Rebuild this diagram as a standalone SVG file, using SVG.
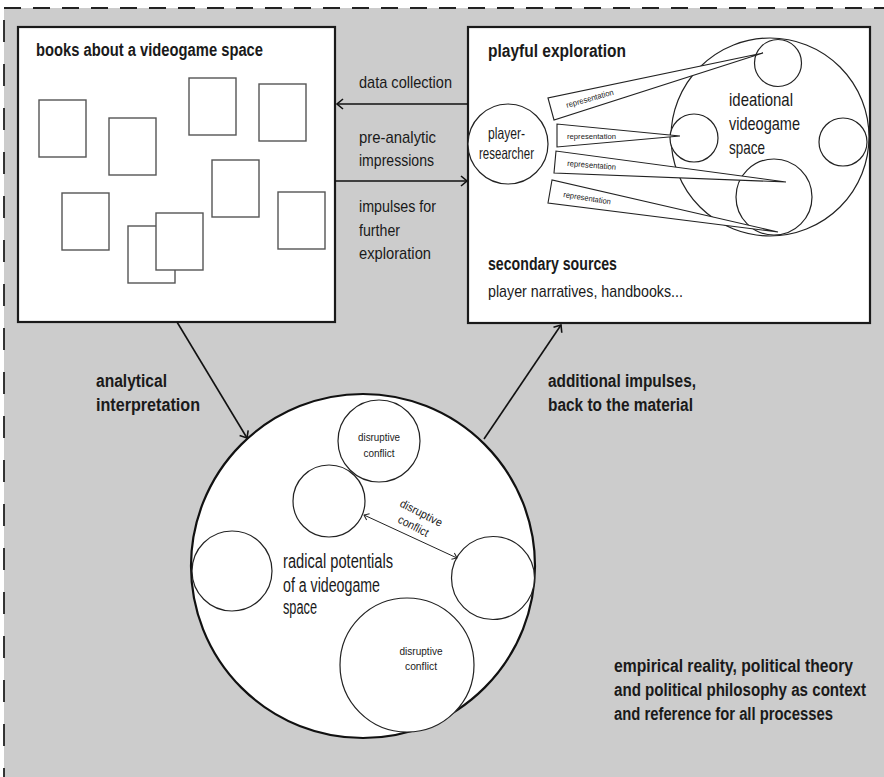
<svg xmlns="http://www.w3.org/2000/svg" width="884" height="777" viewBox="0 0 884 777">
<defs>
<style>
.bg{fill:#cccccc}
.box{fill:#fff;stroke:#1a1a1a;stroke-width:2.2}
.book{fill:#fff;stroke:#555;stroke-width:1.4}
.c{fill:#fff;stroke:#222;stroke-width:1.2}
.cb{fill:#fff;stroke:#111;stroke-width:2.2}
.wedge{fill:#fff;stroke:#222;stroke-width:1.1;stroke-linejoin:miter}
.ln{fill:none;stroke:#111;stroke-width:1.6}
.thin{fill:none;stroke:#222;stroke-width:1}
.t{font-family:"Liberation Sans",Arial,sans-serif;fill:#1a1a1a}
.b{font-weight:bold}
.dash{fill:none;stroke:#222;stroke-width:1.8}
</style>
<marker id="ah" markerUnits="userSpaceOnUse" markerWidth="14" markerHeight="14" viewBox="-8 -7 10 14" refX="0" refY="0" orient="auto">
<path d="M-6,-5 L0,0 L-6,5" fill="none" stroke="#111" stroke-width="1.6"/>
</marker>
<marker id="ahs" markerUnits="userSpaceOnUse" markerWidth="10" markerHeight="10" viewBox="-6 -5 8 10" refX="0" refY="0" orient="auto-start-reverse">
<path d="M-4.5,-3.5 L0,0 L-4.5,3.5" fill="none" stroke="#222" stroke-width="1"/>
</marker>
</defs>

<rect class="bg" x="4" y="8" width="880" height="769"/>
<path class="dash" d="M4,8 H884" stroke-dasharray="17 12"/>
<path class="dash" d="M4,20 V777" stroke-dasharray="22 22"/>

<g id="books">
<rect class="box" x="18" y="27" width="317" height="295"/>
<text class="t b" x="36" y="56" font-size="17.5" textLength="227" lengthAdjust="spacingAndGlyphs">books about a videogame space</text>
<rect class="book" x="39" y="100" width="47" height="57"/>
<rect class="book" x="109" y="118" width="47" height="57"/>
<rect class="book" x="189" y="78" width="47" height="57"/>
<rect class="book" x="259" y="84" width="47" height="57"/>
<rect class="book" x="62" y="193" width="47" height="57"/>
<rect class="book" x="128" y="226" width="47" height="57"/>
<rect class="book" x="156" y="213" width="47" height="57"/>
<rect class="book" x="212" y="160" width="47" height="57"/>
<rect class="book" x="278" y="192" width="47" height="57"/>
</g>

<g id="playful">
<rect class="box" x="468" y="27" width="402" height="296"/>
<text class="t b" x="488" y="57" font-size="18" textLength="138" lengthAdjust="spacingAndGlyphs">playful exploration</text>
<circle class="c" cx="770" cy="137" r="99"/>
<circle class="c" cx="778" cy="63" r="23.5"/>
<circle class="c" cx="694" cy="138" r="24"/>
<circle class="c" cx="843" cy="142" r="24"/>
<circle class="c" cx="774" cy="197" r="38"/>
<text class="t" font-size="19"><tspan x="729" y="106" textLength="64" lengthAdjust="spacingAndGlyphs">ideational</tspan><tspan x="729" y="130" textLength="71" lengthAdjust="spacingAndGlyphs">videogame</tspan><tspan x="729" y="154" textLength="36" lengthAdjust="spacingAndGlyphs">space</tspan></text>
<circle class="c" cx="508" cy="144" r="40"/>
<text class="t" font-size="16.5"><tspan x="488" y="139" textLength="37" lengthAdjust="spacingAndGlyphs">player-</tspan><tspan x="479" y="159" textLength="55" lengthAdjust="spacingAndGlyphs">researcher</tspan></text>
<polygon class="wedge" points="548,98 554,120 763,53"/>
<polygon class="wedge" points="557,124 557,147 680,136"/>
<polygon class="wedge" points="556,151 554,173 786,182"/>
<polygon class="wedge" points="552,180 548,203 778,232"/>
<text class="t" font-size="8" x="567" y="108" transform="rotate(-16 567 108)" textLength="49" lengthAdjust="spacingAndGlyphs">representation</text>
<text class="t" font-size="8" x="567" y="139" textLength="49" lengthAdjust="spacingAndGlyphs">representation</text>
<text class="t" font-size="8" x="567" y="166" transform="rotate(4.5 567 166)" textLength="49" lengthAdjust="spacingAndGlyphs">representation</text>
<text class="t" font-size="8" x="563" y="197" transform="rotate(9 563 197)" textLength="48" lengthAdjust="spacingAndGlyphs">representation</text>
<text class="t b" x="488" y="270" font-size="18" textLength="129" lengthAdjust="spacingAndGlyphs">secondary sources</text>
<text class="t" x="488" y="297" font-size="17" textLength="195" lengthAdjust="spacingAndGlyphs">player narratives, handbooks...</text>
</g>

<g id="radical">
<circle class="cb" cx="363" cy="566" r="172"/>
<circle class="c" cx="379" cy="441" r="41"/>
<circle class="c" cx="329" cy="501" r="36"/>
<circle class="c" cx="232" cy="571" r="40"/>
<circle class="c" cx="493" cy="578" r="41.5"/>
<circle class="c" cx="407" cy="665" r="67"/>
<text class="t" font-size="11.5" text-anchor="middle"><tspan x="379" y="441" textLength="42" lengthAdjust="spacingAndGlyphs">disruptive</tspan><tspan x="379" y="457" textLength="31" lengthAdjust="spacingAndGlyphs">conflict</tspan></text>
<text class="t" font-size="11.5" text-anchor="middle"><tspan x="421" y="655" textLength="43" lengthAdjust="spacingAndGlyphs">disruptive</tspan><tspan x="421" y="670" textLength="32" lengthAdjust="spacingAndGlyphs">conflict</tspan></text>
<path class="thin" d="M364,515 L457,558" marker-start="url(#ahs)" marker-end="url(#ahs)"/>
<text class="t" font-size="11.5" x="399" y="506" transform="rotate(27 399 506)" textLength="46" lengthAdjust="spacingAndGlyphs">disruptive</text>
<text class="t" font-size="11.5" x="397" y="522" transform="rotate(27 397 522)" textLength="33" lengthAdjust="spacingAndGlyphs">conflict</text>
<text class="t" font-size="19.5"><tspan x="283" y="568" textLength="110" lengthAdjust="spacingAndGlyphs">radical potentials</tspan><tspan x="283" y="592" textLength="97" lengthAdjust="spacingAndGlyphs">of a videogame</tspan><tspan x="283" y="614" textLength="34" lengthAdjust="spacingAndGlyphs">space</tspan></text>
</g>

<g id="connectors">
<path class="ln" d="M468,104 H337" marker-end="url(#ah)"/>
<path class="ln" d="M335,181 H467" marker-end="url(#ah)"/>
<path class="ln" d="M177,322 L247,438" marker-end="url(#ah)"/>
<path class="ln" d="M484,439 L561,325" marker-end="url(#ah)"/>
<text class="t" font-size="17" x="359" y="88" textLength="93" lengthAdjust="spacingAndGlyphs">data collection</text>
<text class="t" font-size="17"><tspan x="359" y="143" textLength="77" lengthAdjust="spacingAndGlyphs">pre-analytic</tspan><tspan x="359" y="166" textLength="75" lengthAdjust="spacingAndGlyphs">impressions</tspan></text>
<text class="t" font-size="17"><tspan x="359" y="212" textLength="77" lengthAdjust="spacingAndGlyphs">impulses for</tspan><tspan x="359" y="236" textLength="41" lengthAdjust="spacingAndGlyphs">further</tspan><tspan x="359" y="259" textLength="72" lengthAdjust="spacingAndGlyphs">exploration</tspan></text>
<text class="t b" font-size="18"><tspan x="96" y="387" textLength="71" lengthAdjust="spacingAndGlyphs">analytical</tspan><tspan x="96" y="411" textLength="104" lengthAdjust="spacingAndGlyphs">interpretation</tspan></text>
<text class="t b" font-size="18"><tspan x="548" y="387" textLength="148" lengthAdjust="spacingAndGlyphs">additional impulses,</tspan><tspan x="548" y="411" textLength="145" lengthAdjust="spacingAndGlyphs">back to the material</tspan></text>
</g>

<g id="context">
<text class="t b" font-size="17.5"><tspan x="614" y="672" textLength="239" lengthAdjust="spacingAndGlyphs">empirical reality, political theory</tspan><tspan x="614" y="696" textLength="252" lengthAdjust="spacingAndGlyphs">and political philosophy as context</tspan><tspan x="614" y="720" textLength="219" lengthAdjust="spacingAndGlyphs">and reference for all processes</tspan></text>
</g>
</svg>
